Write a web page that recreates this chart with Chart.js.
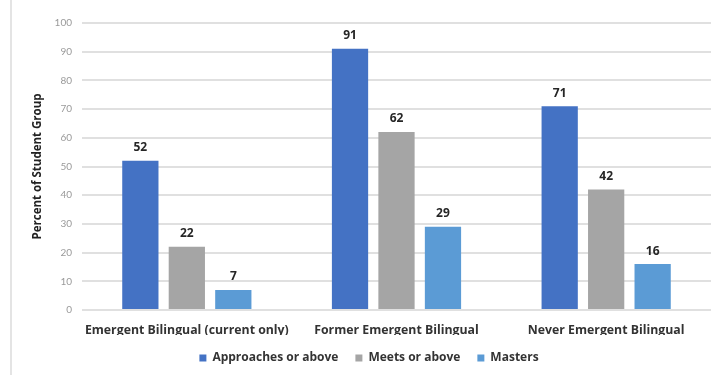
<!DOCTYPE html>
<html>
<head>
<meta charset="utf-8">
<script src="https://cdn.jsdelivr.net/npm/chart.js@4.4.0/dist/chart.umd.min.js"></script>
<style>
  html, body { margin: 0; padding: 0; background: #fff; }
  #wrap { position: relative; width: 723px; height: 375px; }
  #wrap:before { content: ''; position: absolute; left: 10px; top: 0; bottom: 0; width: 2px; background: #e4e4e4; }
</style>
</head>
<body>
<div id="wrap"><canvas id="myChart" width="723" height="375"></canvas></div>
<script>
var groups = ['Emergent Bilingual (current only)', 'Former Emergent Bilingual', 'Never Emergent Bilingual'];
var approaches = [52, 91, 71];
var meets = [22, 62, 42];
var masters = [7, 29, 16];
var yTicks = [0, 10, 20, 30, 40, 50, 60, 70, 80, 90, 100];

// value labels above each bar
var barLabels = {
    id: 'barLabels',
    afterDatasetsDraw: function(chart) {
        var ctx = chart.ctx;
        ctx.save();
        ctx.font = 'bold 12px "Open Sans"';
        ctx.fillStyle = '#262626';
        ctx.textAlign = 'center';
        ctx.textBaseline = 'middle';
        chart.data.datasets.forEach(function(ds, i) {
            chart.getDatasetMeta(i).data.forEach(function(bar, j) {
                ctx.fillText(ds.data[j], bar.x, bar.y - 13);
            });
        });
        ctx.restore();
    }
};

// keep the legend block short so the wide item spacing doesn't eat the plot
var legendHeight = {
    id: 'legendHeight',
    beforeInit: function(chart) {
        var fit = chart.legend.fit;
        chart.legend.fit = function() {
            fit.call(this);
            this.height = 40;
        };
    }
};

var ctx = document.getElementById('myChart').getContext('2d');
var myChart = new Chart(ctx, {
    type: 'bar',
    data: {
        labels: groups,
        datasets: [
            { label: 'Approaches or above', data: approaches, backgroundColor: '#4472C4' },
            { label: 'Meets or above', data: meets, backgroundColor: '#A5A5A5' },
            { label: 'Masters', data: masters, backgroundColor: '#5B9BD5' }
        ]
    },
    options: {
        responsive: false,
        animation: false,
        categoryPercentage: 0.665,
        barPercentage: 0.78,
        layout: { padding: { left: 27, right: 12, top: 23, bottom: 0 } },
        plugins: {
            tooltip: { enabled: false },
            legend: {
                position: 'bottom',
                labels: {
                    boxWidth: 7,
                    boxHeight: 7,
                    padding: 17,
                    color: '#333',
                    font: { family: 'Open Sans', size: 12, weight: 'bold' }
                }
            }
        },
        scales: {
            x: {
                afterFit: function(s) { s.height = 25; },
                grid: { display: false },
                border: { display: false },
                ticks: {
                    padding: 5,
                    minRotation: 0,
                    maxRotation: 0,
                    autoSkip: false,
                    color: '#333',
                    font: { family: 'Open Sans', size: 12.3, weight: 'bold' }
                }
            },
            y: {
                min: 0,
                max: 100,
                afterFit: function(s) { s.width = 55; },
                afterBuildTicks: function(s) { s.ticks = yTicks.map(function(v) { return { value: v }; }); },
                grid: { color: '#e0e0e0', lineWidth: 2, drawTicks: false },
                border: { display: false },
                ticks: {
                    padding: 10,
                    color: '#9a9a9a',
                    font: { family: 'Lato', size: 10 }
                },
                title: {
                    display: true,
                    text: 'Percent of Student Group',
                    color: '#222',
                    font: { family: 'Open Sans', size: 11.5, weight: 'bold' }
                }
            }
        }
    },
    plugins: [barLabels, legendHeight]
});
</script>
</body>
</html>
